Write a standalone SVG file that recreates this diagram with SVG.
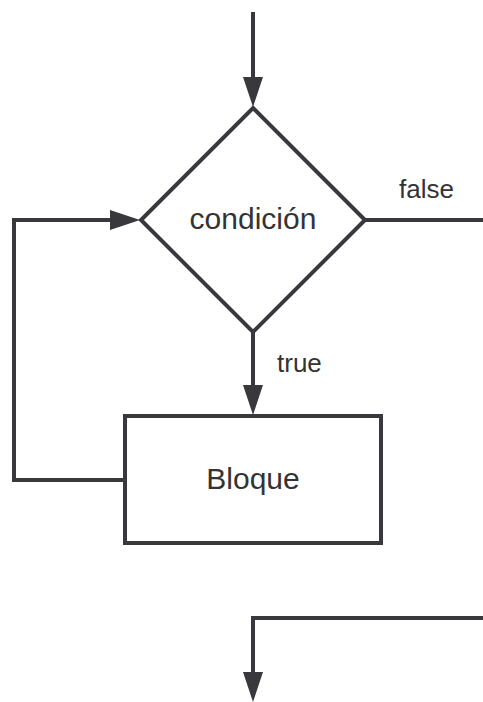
<svg xmlns="http://www.w3.org/2000/svg" width="483" height="702" viewBox="0 0 483 702">
<style>
.s{fill:none;stroke:#39393d;stroke-width:4;stroke-linejoin:miter}
.n{fill:#ffffff;stroke:#39393d;stroke-width:4}
.t{font-family:"Liberation Sans",Arial,sans-serif;fill:#333336}
.big{font-size:30px}
.sm{font-size:26px}
</style>
<defs>
<marker id="ah" markerUnits="userSpaceOnUse" markerWidth="30" markerHeight="20" refX="15" refY="10" viewBox="0 0 30 20" orient="auto" overflow="visible">
<path d="M0,0 L30,10 L0,20 Z" fill="#39393d"/>
</marker>
</defs>
<rect width="483" height="702" fill="#ffffff"/>
<g id="connectors">
<path class="s" d="M253,12 V92" marker-end="url(#ah)"/>
<path class="s" d="M253,332 V400" marker-end="url(#ah)"/>
<path class="s" d="M125,480 H14 V220 H125" marker-end="url(#ah)"/>
<path class="s" d="M365,220 H483"/>
<path class="s" d="M483,618 H253 V687" marker-end="url(#ah)"/>
<text class="t sm" x="399" y="198">false</text>
<text class="t sm" x="277" y="372">true</text>
</g>
<g id="condicion">
<polygon class="n" points="253,108 365,220 253,332 141,220"/>
<text class="t big" x="253" y="229" text-anchor="middle">condición</text>
</g>
<g id="bloque">
<rect class="n" x="125" y="416" width="256" height="127"/>
<text class="t big" x="253" y="489" text-anchor="middle">Bloque</text>
</g>
</svg>
